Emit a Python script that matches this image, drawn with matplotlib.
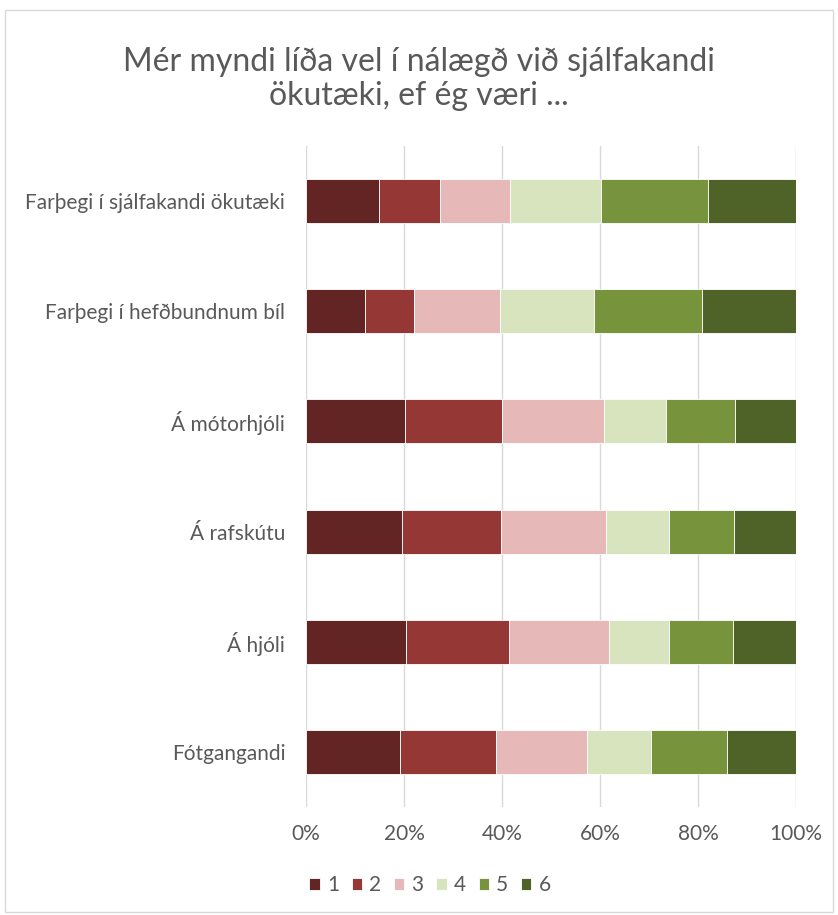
import matplotlib
matplotlib.use("Agg")
import matplotlib.pyplot as plt
from matplotlib.patches import Rectangle

categories = ["Farþegi í sjálfakandi ökutæki", "Farþegi í hefðbundnum bíl",
              "Á mótorhjóli", "Á rafskútu", "Á hjóli", "Fótgangandi"]
series_names = ["1", "2", "3", "4", "5", "6"]
s1 = [14.8, 12.0, 20.3, 19.6, 20.5, 19.1]
s2 = [12.6, 10.0, 19.7, 20.2, 21.0, 19.7]
s3 = [14.2, 17.6, 20.8, 21.4, 20.3, 18.5]
s4 = [18.7, 19.2, 12.7, 12.9, 12.3, 13.2]
s5 = [21.7, 22.0, 14.1, 13.2, 13.0, 15.4]
s6 = [18.0, 19.2, 12.4, 12.7, 12.9, 14.1]
series = [s1, s2, s3, s4, s5, s6]
colors = ["#632523", "#953735", "#E6B9B8", "#D7E4BD", "#77933C", "#4F6228"]
xticks = [0, 20, 40, 60, 80, 100]
xticklabels = ["0%", "20%", "40%", "60%", "80%", "100%"]

plt.rcParams['font.family'] = ['Lato', 'DejaVu Sans']
txt = "#595959"

fig = plt.figure(figsize=(8.38, 9.15), dpi=100)
# chart border
fig.patches.append(Rectangle((5/838, 1-912/915), 828/838, 902/915, transform=fig.transFigure,
                             fill=False, edgecolor="#d9d9d9", linewidth=1.0))

ax = fig.add_axes([306/838, 1-807/915, 490/838, 661/915])
y = list(range(len(categories)))
left = [0.0]*len(categories)
for vals, c, name in zip(series, colors, series_names):
    ax.barh(y, vals, left=left, height=0.4, color=c, edgecolor="white", linewidth=0.6,
            label=name, zorder=3)
    left = [l + v for l, v in zip(left, vals)]

ax.set_xlim(0, 100)
ax.set_ylim(len(categories) - 0.5, -0.5)
ax.set_yticks(y)
ax.set_yticklabels(categories, fontsize=15, color=txt)
ax.set_xticks(xticks)
ax.set_xticklabels(xticklabels, fontsize=15, color=txt)
ax.tick_params(axis='both', length=0)
ax.tick_params(axis='y', pad=15)
ax.tick_params(axis='x', pad=12)
ax.grid(axis='x', color="#d9d9d9", linewidth=1.0, zorder=0)
for s in ax.spines.values():
    s.set_visible(False)

fig.text(0.5, 1-79/915, "Mér myndi líða vel í nálægð við sjálfakandi\nökutæki, ef ég væri ...",
         ha='center', va='center', fontsize=23, color=txt, linespacing=1.15)

leg = ax.legend(loc='center', bbox_to_anchor=(430/838, 1-885/915), bbox_transform=fig.transFigure,
                ncol=6, frameon=False, fontsize=15, handlelength=0.5, handleheight=0.5,
                handletextpad=0.35, columnspacing=0.6)
for t in leg.get_texts():
    t.set_color(txt)

fig.savefig("out.png", dpi=100, facecolor="white")
